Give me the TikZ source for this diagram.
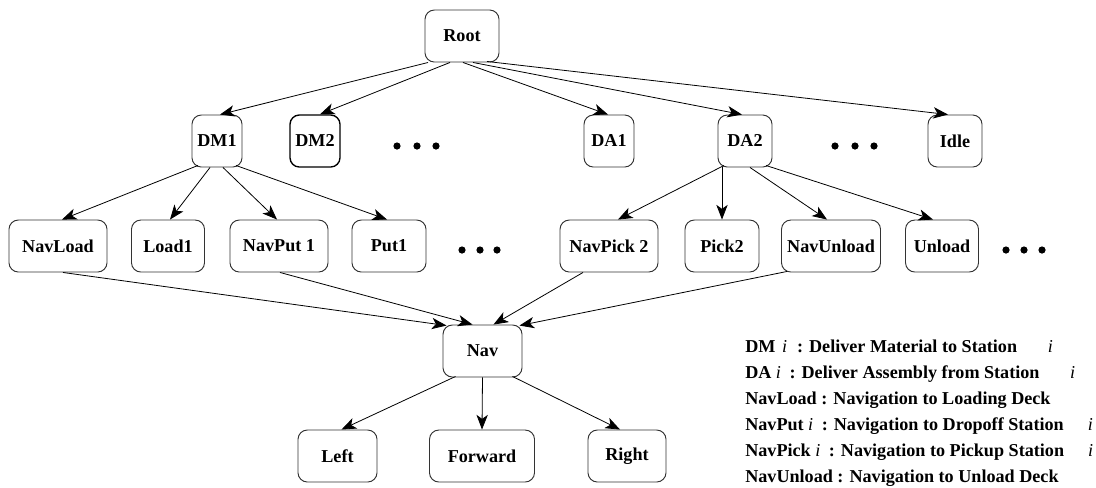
\documentclass[tikz,border=0pt]{standalone}
\usepackage{fontspec}
\setmainfont{Liberation Serif}
\usetikzlibrary{arrows.meta,calc}
\begin{document}
\begin{tikzpicture}[x=0.75pt,y=-0.75pt,
  box/.style={draw=black!80, line width=0.7pt, rounded corners=7pt,
    minimum height=39pt, inner sep=0pt,
    font=\fontsize{13.6}{16}\selectfont\bfseries},
  bw/.style={minimum width=#1*0.75pt},
  edge/.style={line width=0.6pt, -{Stealth[length=11pt,width=8.5pt,inset=3pt]}},
  legend/.style={anchor=base west, inner sep=0pt,
    font=\fontsize{13.6}{16}\selectfont\bfseries}]
\useasboundingbox (0,0) rectangle (1096,487);
\newcommand{\vi}{{\mdseries\itshape i}}

% task hierarchy
\node[box,bw=74] (root) at (462,36) {Root};

\node[box,bw=50] (dm1)  at (217,141) {DM1};
\node[box,bw=50,draw=black,line width=1pt] (dm2) at (315,141) {DM2};
\node[box,bw=50] (da1)  at (609,141) {DA1};
\node[box,bw=54] (da2)  at (745,141) {DA2};
\node[box,bw=54] (idle) at (955,141) {Idle};

\node[box,bw=98] (navload)   at (58,246)  {NavLoad};
\node[box,bw=73] (load1)     at (168,246) {Load1};
\node[box,bw=98] (navput)    at (279,246) {NavPut 1};
\node[box,bw=74] (put1)      at (389,246) {Put1};
\node[box,bw=98] (navpick)   at (609,246) {NavPick 2};
\node[box,bw=74] (pick2)     at (722,246) {Pick2};
\node[box,bw=99] (navunload) at (831,246) {NavUnload};
\node[box,bw=73] (unload)    at (942,246) {Unload};

\node[box,bw=79] (nav) at (482.5,351) {Nav};

\node[box,bw=79]  (left)    at (337.5,456) {Left};
\node[box,bw=105] (forward) at (482,456)   {Forward};
\node[box,bw=78]  (right)   at (627,456)   {Right};

% ellipses between siblings
\foreach \x/\y in {397/146,417/146,436/146,835/146,855/146,874/146,
                   462/250,480/250,497/250,1006/250,1024/250,1042/250}
  \fill (\x,\y) circle[radius=2.7pt];

% Root -> level 1
\draw[edge] ($(root.south)+(-34,0)$) -- ($(dm1.north)+(3,0)$);
\draw[edge] ($(root.south)+(-12,0)$) -- ($(dm2.north)+(5,0)$);
\draw[edge] ($(root.south)+(1,0)$)   -- ($(da1.north)+(-1,0)$);
\draw[edge] ($(root.south)+(11,0)$)  -- ($(da2.north)+(-3,0)$);
\draw[edge] ($(root.south)+(25,-1)$) -- ($(idle.north)+(-7,0)$);

% DM1 -> subtasks
\draw[edge] ($(dm1.south)+(-19,-2)$) -- ($(navload.north)+(4,0)$);
\draw[edge] ($(dm1.south)+(-7,0)$)   -- ($(load1.north)+(2,0)$);
\draw[edge] ($(dm1.south)+(6,0)$)    -- ($(navput.north)+(-2,0)$);
\draw[edge] ($(dm1.south)+(19,-2)$)  -- ($(put1.north)+(-2,0)$);

% DA2 -> subtasks
\draw[edge] ($(da2.south)+(-21,-2)$) -- ($(navpick.north)+(9,0)$);
\draw[edge] (da2.south -| pick2.north) -- (pick2.north);
\draw[edge] ($(da2.south)+(5,0)$)    -- ($(navunload.north)+(-4,0)$);
\draw[edge] ($(da2.south)+(21,-2)$)  -- ($(unload.north)+(-9,0)$);

% navigation subtasks -> Nav
\draw[edge] ($(navload.south)+(5,0)$)      -- ($(nav.north)+(-36,1)$);
\draw[edge] ($(navput.south)+(1,0)$)       -- ($(nav.north)+(-10,0)$);
\draw[edge] ($(navpick.south)+(-26,0)$)    -- ($(nav.north)+(11,0)$);
\draw[edge] ($(navunload.south)+(-44,-1)$) -- ($(nav.north)+(37,1)$);

% Nav -> primitive actions
\draw[edge] ($(nav.south)+(-27,-1)$) -- ($(left.north)+(4,0)$);
\draw[edge] (nav.south) -- (forward.north);
\draw[edge] ($(nav.south)+(30,-1)$)  -- ($(right.north)+(-7,0)$);

% legend
\node[legend] (leg1) at (745,352) {DM\hspace{5pt}\vi\hspace{4pt} : Deliver Material to Station\hspace{23pt}\vi};
\node[legend] (leg2) at (745,378) {DA \vi\hspace{3pt} : Deliver Assembly from Station\hspace{23pt}\vi};
\node[legend] (leg3) at (745,404) {NavLoad : Navigation to Loading Deck};
\node[legend] (leg4) at (745,430) {NavPut \vi\hspace{3pt} : Navigation to Dropoff Station\hspace{18pt}\vi};
\node[legend] (leg5) at (745,456) {NavPick \vi\hspace{3pt} : Navigation to Pickup Station\hspace{18pt}\vi};
\node[legend] (leg6) at (745,482) {NavUnload : Navigation to Unload Deck};
\end{tikzpicture}
\end{document}
